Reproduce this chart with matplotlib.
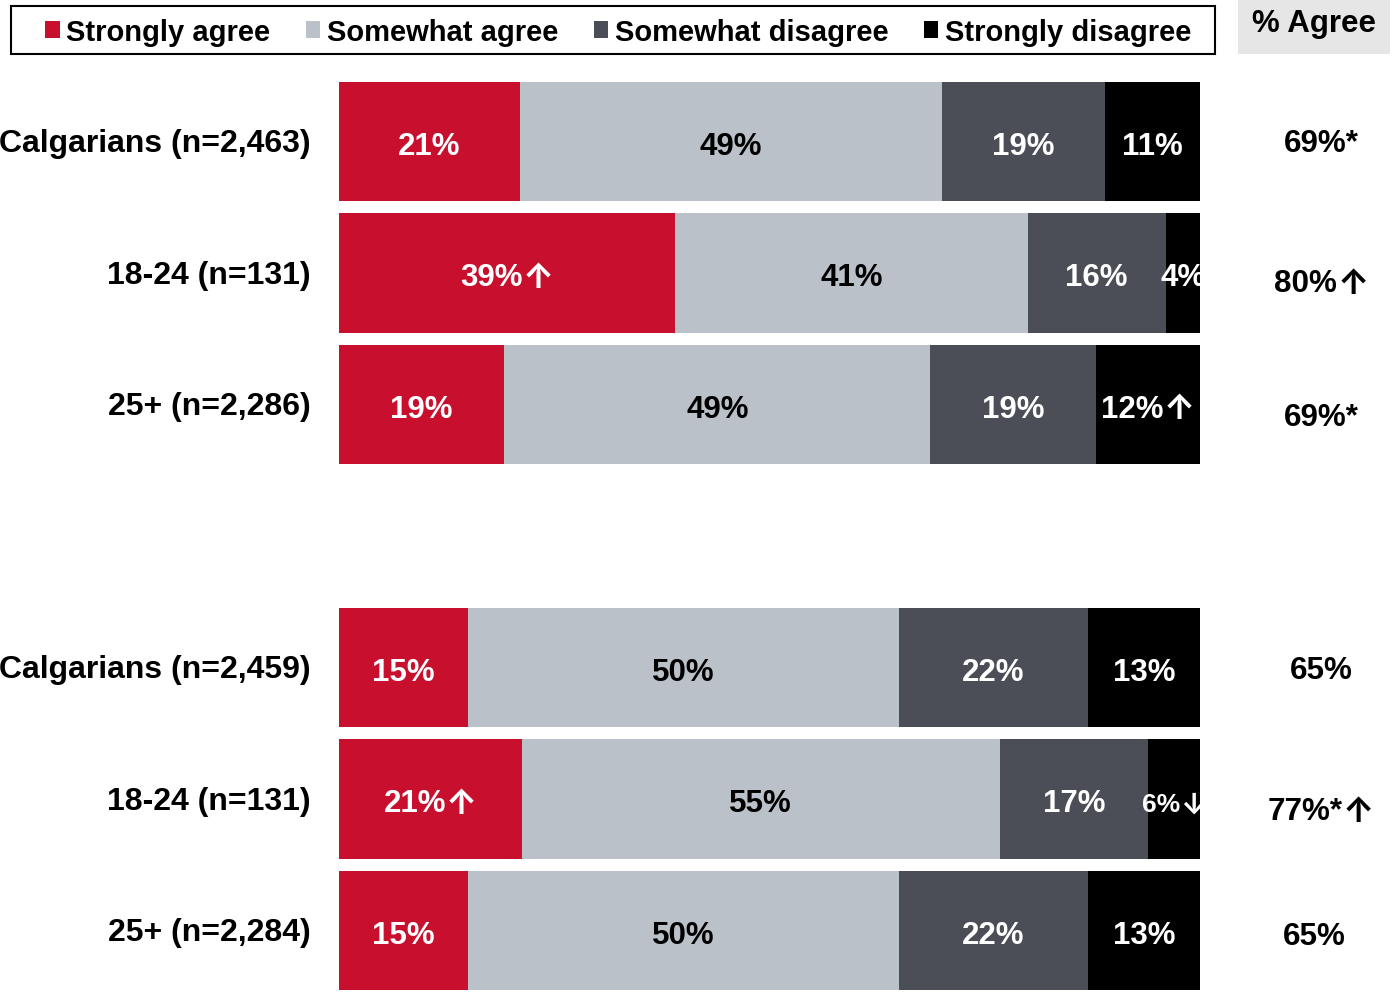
import matplotlib
matplotlib.use("Agg")
import matplotlib.pyplot as plt
from matplotlib.patches import Patch, Rectangle
from matplotlib import transforms

plt.rcParams['font.family'] = ['Liberation Sans', 'DejaVu Sans']
plt.rcParams['font.weight'] = 'bold'

# Survey responses, one row per group
groups = ["Calgarians (n=2,463)", "18-24 (n=131)", "25+ (n=2,286)",
          "Calgarians (n=2,459)", "18-24 (n=131)", "25+ (n=2,284)"]
strongly_agree = [21, 39, 19, 15, 21, 15]
somewhat_agree = [49, 41, 49, 50, 55, 50]
somewhat_disagree = [19, 16, 19, 22, 17, 22]
strongly_disagree = [11, 4, 12, 13, 6, 13]

# significance markers attached to segment labels
strongly_agree_marks = ["", "↑", "", "", "↑", ""]
strongly_disagree_marks = ["", "", "↑", "", "↓", ""]

agree_labels = ["69%*", "80%↑", "69%*", "65%", "77%*↑", "65%"]

categories = ["Strongly agree", "Somewhat agree", "Somewhat disagree", "Strongly disagree"]
colors = ["#C8102E", "#BAC1C8", "#4B4E56", "#000000"]
text_colors = ["white", "black", "white", "white"]

# layout: row slots (two blocks of three) and small pixel nudges for the agree column
row_pos = [0, 1, 2, 4, 5, 6]
bar_h = 0.905
agree_dx = [1, 1.5, 1, 1.5, 1, -6]
agree_dy = [-1.5, 7, 9, -1, 9, 2]

W, H = 1393, 995
DPI = 100
fig = plt.figure(figsize=(W / DPI, H / DPI), dpi=DPI)
ax = fig.add_axes([339 / W, 1 - 991 / H, (1200 - 339) / W, (991 - 83) / H])
ax.set_xlim(0, 100)
ax.set_ylim(6 + bar_h / 2, -bar_h / 2)
ax.axis("off")

ARROWS = "↑↓"
ARROW_FONT = ["Inter", "DejaVu Sans"]
ARROW_SCALE = 1.1
ARROW_DROP = 1.5   # px the arrow sits below the text baseline
pending = []  # (value text, arrow text, base transform, dx, dy)


def shifted(base, dx_px, dy_px):
    return base + transforms.ScaledTranslation(dx_px / DPI, -dy_px / DPI, fig.dpi_scale_trans)


def label(x, y, s, base, fs, color, ha="center", dx=0.0, dy=0.0, clip=False):
    """Draw text so that its cap height is centred on y (dy px downwards)."""
    cap_half = 0.716 * fs * DPI / 72 / 2
    off_y = cap_half + dy
    main = s.rstrip(ARROWS)
    arrow = s[len(main):]
    kw = dict(va="baseline", fontweight="bold", color=color, clip_on=clip)
    if not arrow:
        t = fig.text(x, y, s, ha=ha, transform=shifted(base, dx, off_y), fontsize=fs,
                     family=["Liberation Sans", "DejaVu Sans"], **kw)
        if clip:
            t.set_clip_box(ax.bbox)
        return
    t1 = fig.text(x, y, main, ha="left", transform=base, fontsize=fs,
                  family=["Liberation Sans", "DejaVu Sans"], **kw)
    t2 = fig.text(x, y, arrow, ha="left", transform=base, fontsize=fs * ARROW_SCALE,
                  family=ARROW_FONT, **kw)
    if clip:
        t1.set_clip_box(ax.bbox)
        t2.set_clip_box(ax.bbox)
    pending.append((t1, t2, base, dx, off_y))


series = [strongly_agree, somewhat_agree, somewhat_disagree, strongly_disagree]
marks = [strongly_agree_marks, [""] * 6, [""] * 6, strongly_disagree_marks]

for i, y in enumerate(row_pos):
    vals = [s[i] for s in series]
    total = sum(vals)
    left = 0.0
    for k, v in enumerate(vals):
        w = v / total * 100
        ax.barh(y, w, left=left, height=bar_h, color=colors[k], linewidth=0)
        mark = marks[k][i]
        small = bool(mark) and w < 8
        label(left + w / 2, y, f"{v}%{mark}", ax.transData,
              19 if small else 22.5, text_colors[k],
              dy=2.5 if small else 1.0, clip=True)
        left += w

# group labels and overall agreement column
row_tr = transforms.blended_transform_factory(fig.transFigure, ax.transData)
for i, y in enumerate(row_pos):
    label(311 / W, y, groups[i], row_tr, 23, "black", ha="right", dy=-1.5)
    label(1320 / W, y, agree_labels[i], row_tr, 22.6, "black",
          dx=agree_dx[i], dy=agree_dy[i])

# "% Agree" header
fig.patches.append(Rectangle((1238 / W, 1 - 55 / H), 152 / W, 55 / H,
                             transform=fig.transFigure, facecolor="#E6E6E6",
                             edgecolor="none", zorder=0))
label(1314 / W, 1 - 21 / H, "% Agree", fig.transFigure, 22.5, "black")

# legend with a plain rectangular frame
fig.patches.append(Rectangle((11 / W, 1 - 55 / H), 1204 / W, 48 / H,
                             transform=fig.transFigure, facecolor="white",
                             edgecolor="black", linewidth=1.5, zorder=0))
handles = [Patch(facecolor=c, edgecolor="none") for c in colors]
fig.legend(handles, categories, loc="center left",
           bbox_to_anchor=(45 / W, 1 - 33 / H), bbox_transform=fig.transFigure,
           ncol=4, frameon=False, borderpad=0, borderaxespad=0,
           handlelength=0.5, handleheight=0.5, handletextpad=0.22,
           columnspacing=1.22, prop={"size": 21, "weight": "bold"})

# centre the "value + arrow" pairs now that their widths are known
fig.canvas.draw()
renderer = fig.canvas.get_renderer()
for t1, t2, base, dx, off_y in pending:
    w1 = t1.get_window_extent(renderer).width
    w2 = t2.get_window_extent(renderer).width
    start = dx - (w1 + w2) / 2
    t1.set_transform(shifted(base, start, off_y))
    t2.set_transform(shifted(base, start + w1, off_y + ARROW_DROP))

fig.savefig("out.png", dpi=DPI, facecolor="white")
